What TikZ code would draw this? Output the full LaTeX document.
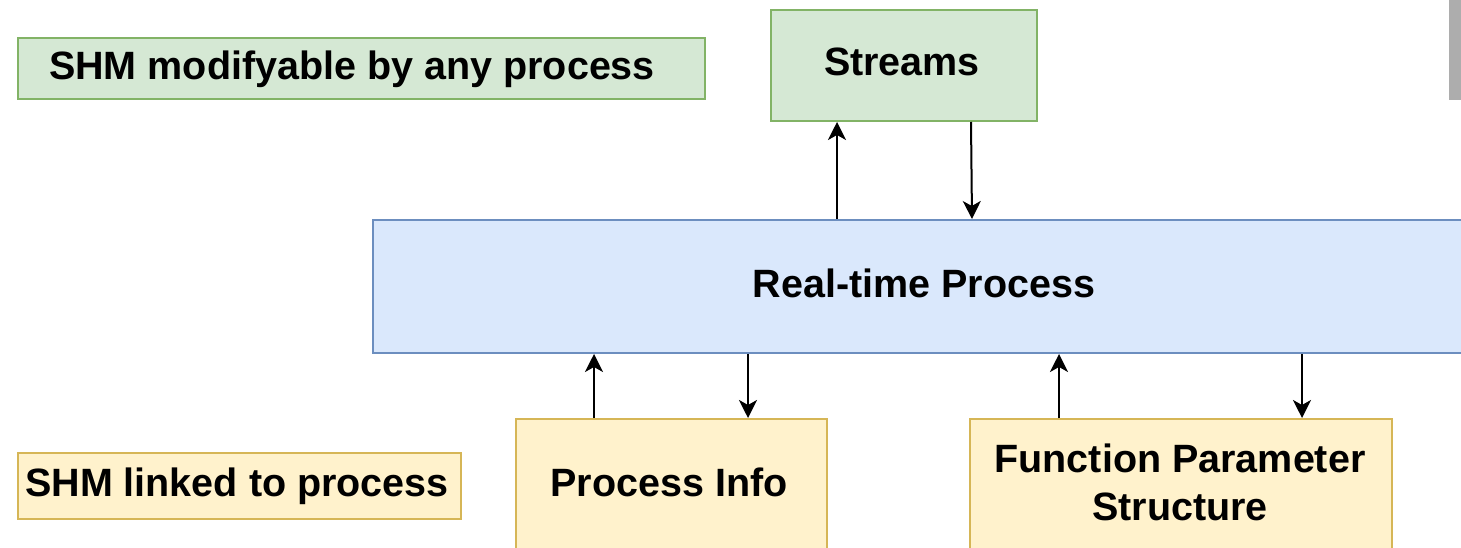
\documentclass[tikz,border=0pt]{standalone}
\usepackage{fontspec}
\setmainfont{Liberation Sans}
\usetikzlibrary{arrows.meta}
\definecolor{grfill}{HTML}{D5E8D4}\definecolor{grline}{HTML}{82B366}
\definecolor{blfill}{HTML}{DAE8FC}\definecolor{blline}{HTML}{6C8EBF}
\definecolor{yefill}{HTML}{FFF2CC}\definecolor{yeline}{HTML}{D6B656}
\definecolor{barg}{HTML}{ADADAD}
\tikzset{
  box/.style={rectangle, line width=2pt, inner sep=0pt, anchor=north west},
  greenbox/.style={box, fill=grfill, draw=grline},
  bluebox/.style={box, fill=blfill, draw=blline},
  yellowbox/.style={box, fill=yefill, draw=yeline},
  lbl/.style={font=\fontsize{39.5}{48}\selectfont\bfseries, inner sep=0pt,
              text height=28.3pt, text depth=0pt},
  arr/.style={line width=2pt, -{Stealth[length=18pt,width=18pt,inset=5pt]}}
}
\begin{document}
\begin{tikzpicture}[x=1pt,y=-1pt]
\useasboundingbox (0,0) rectangle (1461,548);
\clip (0,0) rectangle (1461,548);

% legend boxes
\node[greenbox, minimum width=687pt, minimum height=61pt] (leggreen) at (17,37) {};
\node[lbl] (leggreentext) at (352,65) {SHM modifyable by any process};
\node[yellowbox, minimum width=443pt, minimum height=66pt] (legyellow) at (17,452) {};
\node[lbl] (legyellowtext) at (237,482) {SHM linked to process};

% shared memory blocks and the process
\node[greenbox, minimum width=266pt, minimum height=111pt] (st) at (770,9) {};
\node[lbl] (sttext) at (902,61) {Streams};
\node[bluebox, minimum width=1104pt, minimum height=133pt] (rt) at (372,219) {};
\node[lbl] (rttext) at (924,283) {Real-time Process};
\node[yellowbox, minimum width=311pt, minimum height=160pt] (pi) at (515,418) {};
\node[lbl] (pitext) at (669,482.5) {Process Info};
\node[yellowbox, minimum width=422pt, minimum height=160pt] (fp) at (969,418) {};
\node[lbl] (fptexta) at (1180,458.5) {Function Parameter};
\node[lbl] (fptextb) at (1180,506) {Structure};

% screen edge
\fill[barg] (1449,0) rectangle (1461,100);

% data flow
\draw[arr] ([xshift=-67pt]st.south |- rt.north) -- ([xshift=-67pt]st.south);
\draw[arr] ([xshift=67pt]st.south) -- ([xshift=68pt]st.south |- rt.north);
\draw[arr] ([xshift=-77.5pt]pi.north) -- ([xshift=-77.5pt]pi.north |- rt.south);
\draw[arr] ([xshift=76.5pt]pi.north |- rt.south) -- ([xshift=76.5pt]pi.north);
\draw[arr] ([xshift=-122pt]fp.north) -- ([xshift=-122pt]fp.north |- rt.south);
\draw[arr] ([xshift=121pt]fp.north |- rt.south) -- ([xshift=121pt]fp.north);
\end{tikzpicture}
\end{document}
